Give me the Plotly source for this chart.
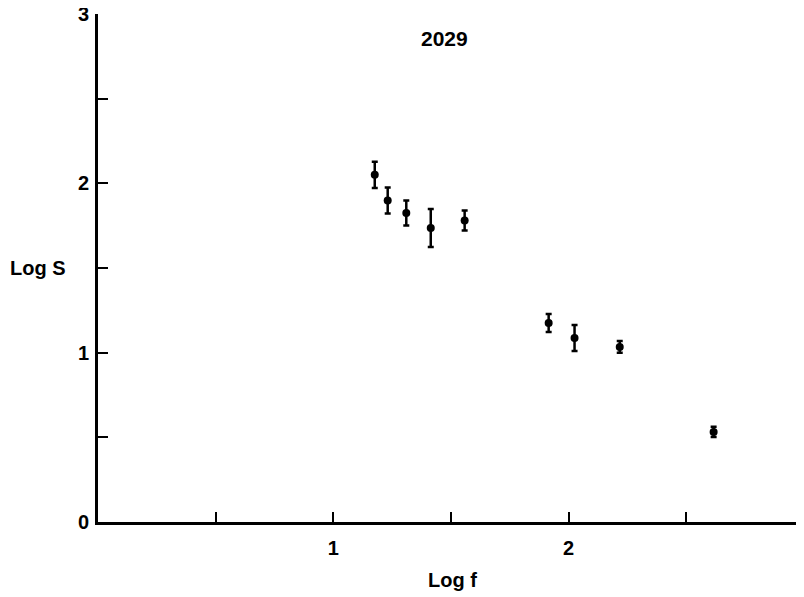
import plotly.graph_objects as go

log_f = [1.176, 1.231, 1.310, 1.414, 1.558, 1.915, 2.025, 2.217, 2.616]
log_s = [2.050, 1.899, 1.825, 1.736, 1.781, 1.175, 1.087, 1.034, 0.532]
err = [0.077, 0.077, 0.074, 0.112, 0.059, 0.053, 0.077, 0.035, 0.030]

tick_vals = [0, 0.5, 1, 1.5, 2, 2.5, 3]
x_tick_text = ["", "", "<b>1</b>", "", "<b>2</b>", "", "<b>3</b>"]
y_tick_text = ["<b>0</b>", "", "<b>1</b>", "", "<b>2</b>", "", "<b>3</b>"]

font_family = "Liberation Sans"

# page body has an 8px margin; figure sized to fit inside the window
FW, FH = 796, 589
OFF = 8
L, T, W, H = 98 - OFF, 14 - OFF, 706, 508

fig = go.Figure()
fig.add_trace(go.Scatter(
    x=log_f, y=log_s, mode="markers",
    marker=dict(color="black", size=8),
    error_y=dict(type="data", array=err, visible=True, color="black",
                 thickness=2.5, width=3),
    showlegend=False, cliponaxis=False,
))

axis_common = dict(
    range=[0, 3], tickvals=tick_vals,
    ticks="inside", ticklen=10, tickwidth=2, tickcolor="black",
    showline=True, linewidth=3, linecolor="black",
    showgrid=False, zeroline=False, automargin=False,
    ticklabeloverflow="allow",
    tickfont=dict(family=font_family, size=20, color="black"),
)

fig.update_layout(
    width=FW, height=FH,
    margin=dict(l=L, r=max(FW - L - W, 0), t=T, b=FH - T - H, autoexpand=False),
    paper_bgcolor="white", plot_bgcolor="white",
    font=dict(family=font_family, color="black", size=20),
    xaxis=dict(axis_common, ticktext=x_tick_text, ticklabelstandoff=6),
    yaxis=dict(axis_common, ticktext=y_tick_text, ticklabelstandoff=2),
    annotations=[
        dict(text="<b>2029</b>", x=(444 - OFF - L) / W, y=(T + H - (38 - OFF)) / H,
             xref="paper", yref="paper", xanchor="center", yanchor="middle",
             showarrow=False, font=dict(size=21, family=font_family)),
        dict(text="<b>Log S</b>", x=(38 - OFF - L) / W, y=1.5, xref="paper", yref="y",
             xanchor="center", yanchor="middle", showarrow=False,
             font=dict(size=20, family=font_family)),
        dict(text="<b>Log f</b>", x=1.505, y=(T + H - (580 - OFF)) / H, xref="x", yref="paper",
             xanchor="center", yanchor="middle", showarrow=False,
             font=dict(size=20, family=font_family)),
    ],
)

fig.write_html("out.html")
